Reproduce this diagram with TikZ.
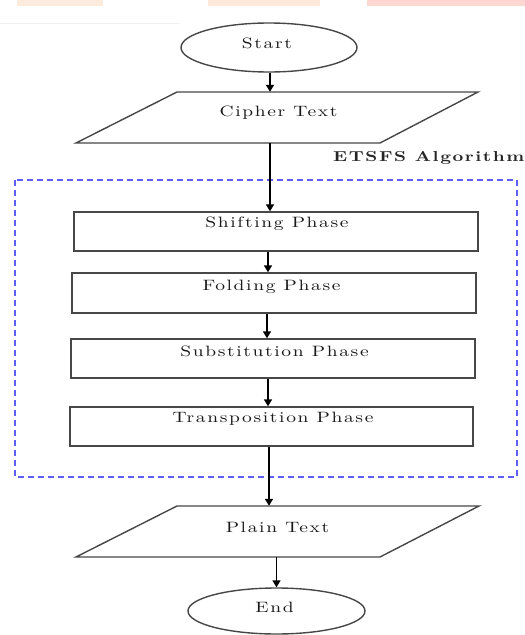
\documentclass[tikz,border=0pt]{standalone}
\usepackage{fontspec}
\usetikzlibrary{arrows.meta,shapes.geometric}
\newfontfamily\lblfont{lmroman10-regular.otf}[BoldFont=lmroman10-bold.otf,FakeStretch=1.3,LetterSpace=11]
\definecolor{dashblue}{RGB}{95,95,245}
\definecolor{peachA}{RGB}{253,236,222}
\definecolor{peachB}{RGB}{253,232,218}
\definecolor{peachC}{RGB}{253,216,208}
\begin{document}
\begin{tikzpicture}[x=1pt,y=-1pt,
  shapeline/.style={draw=black!72,line width=1.4pt},
  terminal/.style={shapeline,ellipse,minimum width=176pt,minimum height=49pt,inner sep=0pt},
  phasebox/.style={shapeline,rectangle,minimum width=404pt,minimum height=39pt,inner sep=0pt},
  ioanchor/.style={rectangle,minimum width=200pt,minimum height=51pt,inner sep=0pt},
  txt/.style={text=black!90,font=\lblfont\fontsize{15}{17}\selectfont,inner sep=0pt},
  flow/.style={draw=black,line width=1.6pt,-{Triangle[length=7pt,width=8pt]}},
  group/.style={draw=dashblue,line width=1.5pt,dash pattern=on 6pt off 4pt},
]
\useasboundingbox (0,0) rectangle (525,635);
% top page strip
\fill[peachA] (17,0) rectangle (103,6);
\fill[peachB] (208,0) rectangle (320,6);
\fill[peachC] (367,0) rectangle (525,6);
\draw[black!6,line width=1pt] (0,23) -- (180,23);

\coordinate (ax) at (270,0);

% terminals
\node[terminal] (start) at (269,47.5) {};
\node[txt] (startT) at (267,43) {Start};
\node[terminal,minimum width=177pt,minimum height=46pt] (endn) at (276.5,611) {};
\node[txt] (endT) at (274.5,607) {End};

% input / output parallelograms
\node[ioanchor] (cipher) at (277.75,117.5) {};
\draw[shapeline,line join=miter] (177,92) -- (478,92) -- (380,143) -- (76,143) -- cycle;
\node[txt] (cipherT) at (278.5,113) {Cipher Text};

\node[ioanchor] (plain) at (278,531.5) {};
\draw[shapeline,line join=miter] (177,506) -- (479,506) -- (380,557) -- (76,557) -- cycle;
\node[txt] (plainT) at (277.5,527) {Plain Text};

% algorithm group
\draw[group] (15,180) rectangle (517,477);
\node[anchor=west,inner sep=0pt,text=black!85,font=\lblfont\fontsize{14.4}{17}\selectfont\bfseries] (algT) at (333,158) {ETSFS Algorithm};

% phases
\node[phasebox] (shift) at (276,231.5) {};
\node[txt] (shiftT) at (277,224) {Shifting Phase};
\node[phasebox,minimum height=40pt] (fold) at (274,293) {};
\node[txt] (foldT) at (271.5,287) {Folding Phase};
\node[phasebox] (subst) at (273,358.5) {};
\node[txt] (substT) at (274.5,351) {Substitution Phase};
\node[phasebox,minimum width=403pt] (trans) at (271.5,426.5) {};
\node[txt] (transT) at (273,419) {Transposition Phase};

% connectors
\draw[flow] (start.south -| ax) -- (cipher.north -| ax);
\draw[flow] (cipher.south -| ax) -- (shift.north -| ax);
\draw[flow] ([xshift=-2pt]shift.south -| ax) -- ([xshift=-2pt]fold.north -| ax);
\draw[flow] ([xshift=-3pt]fold.south -| ax) -- ([xshift=-3pt]subst.north -| ax);
\draw[flow] ([xshift=-2pt]subst.south -| ax) -- ([xshift=-2pt]trans.north -| ax);
\draw[flow] ([xshift=-1pt]trans.south -| ax) -- ([xshift=-1pt]plain.north -| ax);
\draw[flow] (plain.south -| endn.north) -- (endn.north);
\end{tikzpicture}
\end{document}
